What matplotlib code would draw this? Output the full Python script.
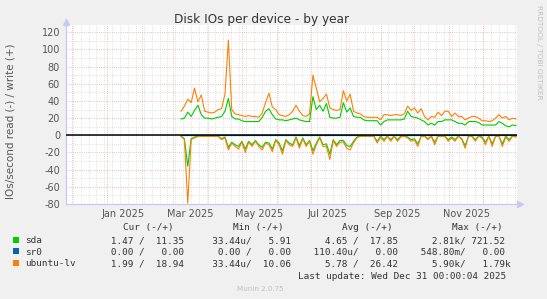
import pandas as pd
import matplotlib
matplotlib.use("Agg")
import matplotlib.pyplot as plt
from matplotlib.patches import Rectangle

W, H = 547, 299

# munin yearly rrd, every 3 days (Mar 8 .. Dec 30 2025)
dates = pd.date_range("2025-03-08", periods=100, freq="3D")

sda_write = [19, 20, 27, 22, 29, 35, 24, 20, 20, 19,
             20, 21, 22, 28, 43, 22, 19, 19, 17, 16,
             16, 16, 16, 16, 21, 28, 31, 24, 19, 18,
             18, 17, 18, 19, 20, 18, 17, 16, 16, 45,
             30, 35, 28, 37, 21, 20, 20, 21, 38, 27,
             32, 22, 21, 21, 18, 17, 17, 17, 17, 12,
             16, 18, 18, 18, 18, 18, 19, 28, 22, 21,
             20, 18, 16, 12, 14, 12, 16, 16, 18, 18,
             18, 16, 14, 14, 12, 16, 16, 16, 15, 12,
             12, 12, 12, 12, 16, 14, 11, 10, 12, 11.4]
sda_read = [-1, -4, -36, -4, -2, -1, -1, -1, -1, -1,
            -1, -1, -4, -2, -14, -8, -11, -13, -7, -16,
            -7, -11, -6, -11, -14, -8, -9, -16, -5, -9,
            -18, -5, -9, -11, -2, -12, -3, -11, -6, -18,
            -9, -2, -11, -10, -22, -5, -11, -6, -6, -12,
            -13, -7, -2, -1, -1, -1, -1, -1, -7, -1,
            -5, -1, -5, -1, -5, -1, -1, -2, -5, -4,
            -10, -1, -1, -4, -1, -8, -1, -1, -1, -5,
            -2, -5, -1, -4, -12, -1, -1, -5, -1, -2,
            -8, -1, -10, -1, -1, -10, -1, -5, -1, -1.5]
ubuntu_write = [28, 34, 42, 38, 55, 39, 47, 28, 27, 26,
                27, 30, 31, 48, 111, 30, 25, 24, 23, 22,
                23, 22, 22, 21, 26, 38, 49, 33, 30, 24,
                23, 22, 24, 28, 35, 28, 23, 22, 25, 70,
                55, 39, 43, 48, 32, 30, 29, 30, 52, 40,
                48, 28, 26, 25, 22, 21, 21, 21, 21, 18,
                24, 24, 23, 24, 24, 23, 25, 34, 29, 32,
                26, 31, 22, 18, 22, 21, 27, 23, 28, 28,
                22, 26, 22, 22, 18, 20, 22, 22, 20, 17,
                17, 16, 17, 20, 24, 20, 22, 18, 20, 19]
ubuntu_read = [-1.3, -5, -79, -5, -3, -1.5, -1, -1, -1, -1,
               -1, -1.5, -5, -3, -17, -9, -13, -16, -8, -20,
               -8, -13, -7, -13, -17, -9, -11, -19, -6, -11,
               -22, -6, -11, -13, -3, -15, -4, -13, -7, -22,
               -11, -3, -13, -13, -28, -6, -13, -8, -8, -15,
               -17, -9, -3, -1, -1, -1, -1, -1, -9, -2,
               -7, -1, -7, -1, -7, -2, -1, -3, -7, -5,
               -13, -1, -1, -5, -1, -11, -1, -1, -1, -7,
               -3, -7, -1, -5, -15, -1, -1, -7, -1, -3,
               -11, -1, -13, -1, -1, -13, -2, -7, -1, -2]
sr0_write = [0.0] * 100
sr0_read = [0.0] * 100

xlabel_dates = ["2025-01-16", "2025-03-16", "2025-05-16", "2025-07-16", "2025-09-16", "2025-11-16"]
xlabel_text = ["Jan 2025", "Mar 2025", "May 2025", "Jul 2025", "Sep 2025", "Nov 2025"]
yticks = [-80, -60, -40, -20, 0, 20, 40, 60, 80, 100, 120]

names = ["sda", "sr0", "ubuntu-lv"]
colors = ["#00CC00", "#0066B3", "#FF8000"]
cur = ["   1.47 /  11.35 ", "   0.00 /   0.00 ", "   1.99 /  18.94 "]
mins = ["  33.44u/   5.91 ", "   0.00 /   0.00 ", "  33.44u/  10.06 "]
avgs = ["   4.65 /  17.85 ", " 110.40u/   0.00 ", "   5.78 /  26.42 "]
maxs = ["   2.81k/ 721.52 ", " 548.80m/   0.00 ", "   5.90k/   1.79k"]


def fx(x):
    return x / W


def fy(y):
    return 1 - y / H


fig = plt.figure(figsize=(W / 100, H / 100), dpi=100, facecolor="#F0F0F0")
ax = fig.add_axes([fx(66), fy(204), (517 - 66) / W, (204 - 25) / H])
ax.set_facecolor("white")
ax.set_xlim(pd.Timestamp("2024-11-26"), pd.Timestamp("2025-12-31"))
ax.set_ylim(-80, 128.5)

# grid like rrdtool: weekly / 10 minor, monthly / 20 major
for d in pd.date_range("2024-11-25", "2025-12-31", freq="W-MON"):
    ax.axvline(d, color="#D6D6D6", lw=0.6, ls=(0, (1, 1.6)), zorder=1)
for v in range(-70, 121, 20):
    ax.axhline(v, color="#D6D6D6", lw=0.6, ls=(0, (1, 1.6)), zorder=1)
for d in pd.date_range("2024-12-01", "2025-12-01", freq="MS"):
    ax.axvline(d, color="#F2A8A8", lw=0.6, ls=(0, (1, 1.6)), zorder=1.1)
for v in yticks:
    ax.axhline(v, color="#F2A8A8", lw=0.6, ls=(0, (1, 1.6)), zorder=1.1)

ax.plot(dates, sda_write, color=colors[0], lw=0.8, zorder=2)
ax.plot(dates, sda_read, color=colors[0], lw=0.8, zorder=2)
ax.plot(dates, sr0_write, color=colors[1], lw=0.8, zorder=2)
ax.plot(dates, sr0_read, color=colors[1], lw=0.8, zorder=2)
ax.plot(dates, ubuntu_write, color=colors[2], lw=0.8, zorder=2.1)
ax.plot(dates, ubuntu_read, color=colors[2], lw=0.8, zorder=2.1)
ax.axhline(0, color="black", lw=1.1, zorder=3)

for s in ["top", "right"]:
    ax.spines[s].set_visible(False)
for s in ["left", "bottom"]:
    ax.spines[s].set_color("#C8C8F4")
    ax.spines[s].set_linewidth(0.9)
ax.plot([0], [1.017], marker="^", ms=4, color="#C8C8F4", transform=ax.transAxes, clip_on=False)
ax.plot([1.006], [0], marker=">", ms=4, color="#C8C8F4", transform=ax.transAxes, clip_on=False)

ax.set_xticks(pd.to_datetime(xlabel_dates))
ax.set_xticklabels(xlabel_text)
ax.set_yticks(yticks)
ax.set_yticklabels([str(v) for v in yticks])
ax.tick_params(length=0, labelsize=7, labelcolor="#555555")
ax.tick_params(axis="x", pad=3.5)
ax.tick_params(axis="y", pad=4.3)

fig.text(fx(261), fy(23.5), "Disk IOs per device - by year", ha="center", va="baseline",
         fontsize=8.7, color="#333333")
fig.text(fx(10.5), fy(121), "IOs/second read (-) / write (+)", rotation=90, ha="center",
         va="center", fontsize=7.5, color="#555555")
fig.text(fx(539), fy(5), "RRDTOOL / TOBI OETIKER", rotation=270, ha="center", va="top",
         fontsize=5.3, color="#C0C0C0")

mono = "DejaVu Sans Mono"
fs = 6.75
tc = "#333333"
for x, t in zip([123.3, 232.7, 342.3, 451.7], ["Cur (-/+)", "Min (-/+)", "Avg (-/+)", "Max (-/+)"]):
    fig.text(fx(x), fy(230), t, family=mono, fontsize=fs, color=tc, va="baseline")

rows = [243, 254.7, 266.4]
for i in range(3):
    y = rows[i]
    fig.patches.append(Rectangle((fx(13), fy(y - 0.5)), 6 / W, 6 / H, transform=fig.transFigure,
                                 facecolor=colors[i], edgecolor="none"))
    fig.text(fx(25), fy(y), names[i], family=mono, fontsize=fs, color=tc, va="baseline")
    fig.text(fx(93.9), fy(y), cur[i], family=mono, fontsize=fs, color=tc, va="baseline")
    fig.text(fx(200.6), fy(y), mins[i], family=mono, fontsize=fs, color=tc, va="baseline")
    fig.text(fx(307.8), fy(y), avgs[i], family=mono, fontsize=fs, color=tc, va="baseline")
    fig.text(fx(414.8), fy(y), maxs[i], family=mono, fontsize=fs, color=tc, va="baseline")

fig.text(fx(298), fy(278.8), "Last update: Wed Dec 31 00:00:04 2025", family=mono, fontsize=fs,
         color=tc, va="baseline")
fig.text(fx(260.7), fy(291), "Munin 2.0.75", ha="center", va="baseline", fontsize=5.1, color="#C0C0C0")

fig.savefig("out.png", dpi=100, facecolor=fig.get_facecolor())
